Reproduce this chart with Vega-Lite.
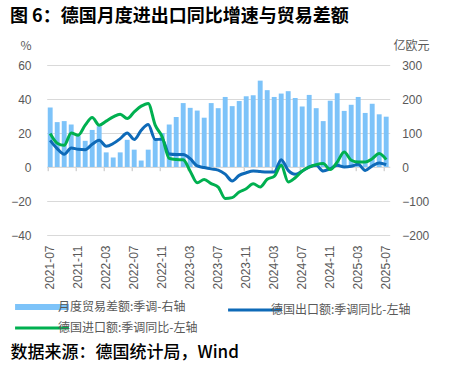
{
  "$schema": "https://vega.github.io/schema/vega-lite/v6.json",
  "width": 343,
  "height": 170,
  "autosize": "none",
  "padding": {"left": 46.7, "top": 65, "right": 68.3, "bottom": 131},
  "background": "white",
  "title": {
    "text": "图 6：德国月度进出口同比增速与贸易差额",
    "anchor": "start",
    "frame": "group",
    "dx": -36.7,
    "offset": 13,
    "font": "Noto Sans CJK SC",
    "fontSize": 18,
    "fontWeight": "bold",
    "color": "#000000"
  },
  "config": {
    "view": {"stroke": null},
    "axis": {"labelFont": "Liberation Sans", "labelColor": "#595959", "titleFont": "Noto Sans CJK SC", "titleColor": "#595959", "titleFontWeight": "normal"}
  },
  "data": {
    "values": [
      {"m": "2021-07", "bal": 175, "exp": 15.7, "imp": 19.7},
      {"m": "2021-08", "bal": 132, "exp": 10.8, "imp": 14.0},
      {"m": "2021-09", "bal": 135, "exp": 7.5, "imp": 12.8},
      {"m": "2021-10", "bal": 125, "exp": 11.2, "imp": 20.0},
      {"m": "2021-11", "bal": 91, "exp": 10.4, "imp": 18.7},
      {"m": "2021-12", "bal": 77, "exp": 10.2, "imp": 24.6},
      {"m": "2022-01", "bal": 109, "exp": 13.4, "imp": 29.1},
      {"m": "2022-02", "bal": 120, "exp": 15.7, "imp": 24.6},
      {"m": "2022-03", "bal": 43, "exp": 12.2, "imp": 27.0},
      {"m": "2022-04", "bal": 28, "exp": 13.8, "imp": 29.5},
      {"m": "2022-05", "bal": 43, "exp": 16.7, "imp": 31.1},
      {"m": "2022-06", "bal": 80, "exp": 20.0, "imp": 28.5},
      {"m": "2022-07", "bal": 51, "exp": 16.2, "imp": 32.4},
      {"m": "2022-08", "bal": 19, "exp": 21.6, "imp": 35.8},
      {"m": "2022-09", "bal": 51, "exp": 25.0, "imp": 37.4},
      {"m": "2022-10", "bal": 82, "exp": 16.2, "imp": 24.6},
      {"m": "2022-11", "bal": 100, "exp": 16.3, "imp": 17.8},
      {"m": "2022-12", "bal": 125, "exp": 7.6, "imp": 5.1},
      {"m": "2023-01", "bal": 147, "exp": 7.3, "imp": 4.4},
      {"m": "2023-02", "bal": 188, "exp": 7.4, "imp": 4.2},
      {"m": "2023-03", "bal": 174, "exp": 4.9, "imp": -2.5},
      {"m": "2023-04", "bal": 166, "exp": 0.6, "imp": -9.3},
      {"m": "2023-05", "bal": 145, "exp": -0.3, "imp": -7.3},
      {"m": "2023-06", "bal": 188, "exp": -1.1, "imp": -9.8},
      {"m": "2023-07", "bal": 173, "exp": -1.8, "imp": -11.8},
      {"m": "2023-08", "bal": 206, "exp": -4.2, "imp": -18.5},
      {"m": "2023-09", "bal": 179, "exp": -8.2, "imp": -18.0},
      {"m": "2023-10", "bal": 194, "exp": -4.9, "imp": -14.7},
      {"m": "2023-11", "bal": 208, "exp": -3.4, "imp": -12.8},
      {"m": "2023-12", "bal": 211, "exp": -2.4, "imp": -9.8},
      {"m": "2024-01", "bal": 254, "exp": -2.7, "imp": -11.8},
      {"m": "2024-02", "bal": 226, "exp": -2.9, "imp": -7.2},
      {"m": "2024-03", "bal": 206, "exp": -2.9, "imp": -5.5},
      {"m": "2024-04", "bal": 216, "exp": 4.3, "imp": 1.0},
      {"m": "2024-05", "bal": 223, "exp": -2.0, "imp": -8.8},
      {"m": "2024-06", "bal": 203, "exp": -4.3, "imp": -6.3},
      {"m": "2024-07", "bal": 178, "exp": -2.4, "imp": -2.4},
      {"m": "2024-08", "bal": 212, "exp": 0.0, "imp": 0.0},
      {"m": "2024-09", "bal": 173, "exp": 1.0, "imp": 1.4},
      {"m": "2024-10", "bal": 135, "exp": -2.4, "imp": 2.0},
      {"m": "2024-11", "bal": 195, "exp": -1.0, "imp": -1.5},
      {"m": "2024-12", "bal": 217, "exp": 1.0, "imp": 2.9},
      {"m": "2025-01", "bal": 165, "exp": 0.0, "imp": 8.8},
      {"m": "2025-02", "bal": 183, "exp": 0.4, "imp": 4.0},
      {"m": "2025-03", "bal": 206, "exp": 1.6, "imp": 2.9},
      {"m": "2025-04", "bal": 159, "exp": -2.0, "imp": 2.9},
      {"m": "2025-05", "bal": 186, "exp": 0.6, "imp": 4.9},
      {"m": "2025-06", "bal": 155, "exp": 2.4, "imp": 7.9},
      {"m": "2025-07", "bal": 148, "exp": 1.4, "imp": 4.3}
    ]
  },
  "transform": [{"fold": ["bal", "exp", "imp"], "as": ["s", "v"]}],
  "layer": [
    {
      "transform": [{"filter": "datum.s === 'bal'"}],
      "mark": {"type": "bar"},
      "encoding": {
        "x": {
          "field": "m", "type": "ordinal", "sort": null,
          "scale": {"paddingInner": 0.3, "paddingOuter": 0.15},
          "axis": {
            "orient": "bottom",
            "values": ["2021-07","2021-11","2022-03","2022-07","2022-11","2023-03","2023-07","2023-11","2024-03","2024-07","2024-11","2025-03","2025-07"],
            "labelAngle": 270, "labelFontSize": 12, "labelPadding": 10,
            "ticks": false, "domain": false, "grid": false,
            "title": "数据来源：德国统计局，Wind",
            "titleFont": "Noto Sans CJK SC", "titleFontSize": 17, "titleFontWeight": 500, "titleColor": "#000000",
            "titleAlign": "left", "titleBaseline": "middle", "titleAngle": 0,
            "titleX": -36.7, "titleY": 117
          }
        },
        "y": {
          "field": "v", "type": "quantitative",
          "scale": {"domain": [-200, 300], "nice": false, "zero": false},
          "axis": {
            "orient": "right", "values": [-200, -100, 0, 100, 200, 300],
            "grid": false, "domain": false, "ticks": false,
            "labelFontSize": 12, "labelPadding": 12, "labelAlign": "left",
            "title": "亿欧元", "titleFontSize": 12, "titleAngle": 0,
            "titleAlign": "center", "titleBaseline": "middle", "titleX": 21.3, "titleY": -20
          }
        },
        "color": {
          "field": "s", "type": "nominal",
          "scale": {"domain": ["bal", "exp", "imp"], "range": ["#7DC3F9", "#0E6AB8", "#00B050"]},
          "legend": {
            "orient": "none", "legendX": -10.7, "legendY": 236,
            "direction": "horizontal", "columns": 2, "columnPadding": 24, "rowPadding": 3,
            "title": null,
            "symbolType": "stroke", "symbolSize": 2900, "symbolStrokeWidth": 3,
            "labelFont": "Noto Sans CJK SC", "labelFontSize": 12, "labelColor": "#595959", "labelOffset": 10,
            "labelExpr": "datum.value === 'bal' ? '月度贸易差额:季调-右轴' : datum.value === 'exp' ? '德国出口额:季调同比-左轴' : '德国进口额:季调同比-左轴'",
            "encode": {
              "symbols": {
                "update": {
                  "stroke": {"scale": "color", "field": "value"},
                  "strokeWidth": {"signal": "datum.value === 'bal' ? 6 : 3"}
                }
              }
            }
          }
        }
      }
    },
    {
      "transform": [{"filter": "datum.s !== 'bal'"}],
      "mark": {"type": "line", "interpolate": "monotone", "strokeWidth": 3},
      "encoding": {
        "x": {
          "field": "m", "type": "ordinal", "sort": null,
          "axis": {
            "orient": "bottom", "offset": -68.3,
            "values": ["2021-07","2021-11","2022-03","2022-07","2022-11","2023-03","2023-07","2023-11","2024-03","2024-07","2024-11","2025-03","2025-07"],
            "bandPosition": 0, "labels": false, "ticks": true, "tickSize": 4, "tickColor": "#BFBFBF",
            "domain": true, "domainColor": "#D9D9D9", "grid": false, "title": null
          }
        },
        "y": {
          "field": "v", "type": "quantitative",
          "scale": {"domain": [-40, 60], "nice": false, "zero": false},
          "axis": {
            "orient": "left", "values": [-40, -20, 0, 20, 40, 60],
            "grid": true, "gridColor": "#D9D9D9", "domain": false, "ticks": false,
            "labelFontSize": 12, "labelPadding": 15.7,
            "title": "%", "titleFontSize": 12, "titleAngle": 0,
            "titleAlign": "center", "titleBaseline": "middle", "titleX": -21.2, "titleY": -20
          }
        },
        "color": {"field": "s", "type": "nominal"}
      }
    }
  ],
  "resolve": {"scale": {"y": "independent"}, "axis": {"x": "independent"}}
}
